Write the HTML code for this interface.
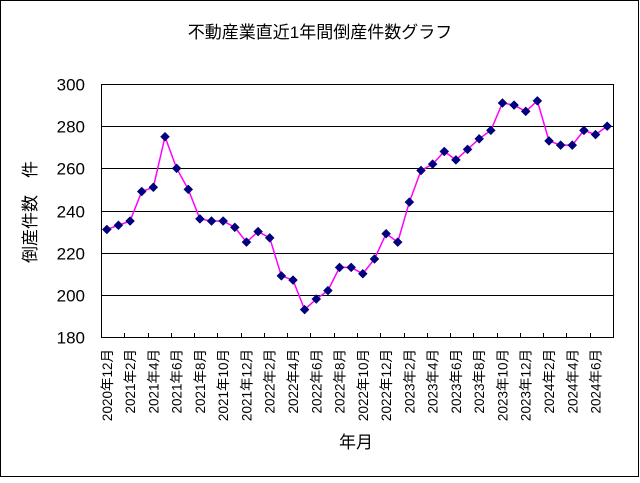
<!DOCTYPE html>
<html><head><meta charset="utf-8"><style>
body{margin:0;background:#fff}
svg text{font-family:"Liberation Sans","Noto Sans CJK JP",sans-serif;fill:#000}
</style></head><body>
<svg width="640" height="478" xmlns="http://www.w3.org/2000/svg">
<rect x="0.5" y="0.5" width="638" height="476" fill="#fff" stroke="#000"/>
<text x="320" y="38" text-anchor="middle" font-size="17">不動産業直近1年間倒産件数グラフ</text>
<g id="plot"></g>
<text transform="translate(36,212) rotate(-90)" text-anchor="middle" font-size="17">倒産件数　件</text>
<text x="356" y="448" text-anchor="middle" font-size="17">年月</text>
</svg>
<script>
const values=[231,233,235,249,251,275,260,250,236,235,235,232,225,230,227,209,207,193,198,202,213,213,210,217,229,225,244,259,262,268,264,269,274,278,291,290,287,292,273,271,271,278,276,280];
const startYear=2020,startMonth=12;
const yTicks=[180,200,220,240,260,280,300];
const ns="http://www.w3.org/2000/svg";
const g=document.getElementById('plot');
const L=101,R=613,T=84,B=337,yMin=180,yMax=300;
const n=values.length,cw=(R-L)/n;
const xs=i=>L+cw*(i+0.5);
const ys=v=>B-(v-yMin)/(yMax-yMin)*(B-T);
function mk(t,a){const e=document.createElementNS(ns,t);for(const k in a)e.setAttribute(k,a[k]);g.appendChild(e);return e;}
yTicks.forEach(v=>{
 const y=Math.round(ys(v))+0.5;
 const l=mk('line',{x1:L,x2:R,y1:y,y2:y,stroke:'#000'});
 
 
 const t=mk('text',{x:85,y:y+6,'text-anchor':'end','font-size':17});
 t.textContent=v;
 
 
});
const ax=mk('path',{d:`M${L+0.5},${T}V${B+0.5}H${R+0.5}V${T}`,fill:'none',stroke:'#000'});


for(let i=0;i<n;i+=2){
 const tx=Math.round(L+cw*i)+0.5;
 if(i>0){const tk=mk('line',{x1:tx,x2:tx,y1:B-4,y2:B,stroke:'#000'});
 
 }
 let m=startMonth-1+i,yr=startYear+Math.floor(m/12);m=m%12+1;
 const t=mk('text',{transform:`translate(${xs(i)+5},349) rotate(-90)`,'text-anchor':'end','font-size':13.5});
 t.textContent=yr+'年'+m+'月';
 
 
}
const line=mk('polyline',{points:values.map((v,i)=>xs(i)+','+ys(v)).join(' '),fill:'none',stroke:'#ff00ff','stroke-width':1.5});


values.forEach((v,i)=>{
 const x=xs(i),y=ys(v);
 const p=mk('polygon',{points:`${x},${y-4.5} ${x+4.5},${y} ${x},${y+4.5} ${x-4.5},${y}`,fill:'#000080',stroke:'#000060','stroke-width':0.5});
 
 
});
</script>
</body></html>
